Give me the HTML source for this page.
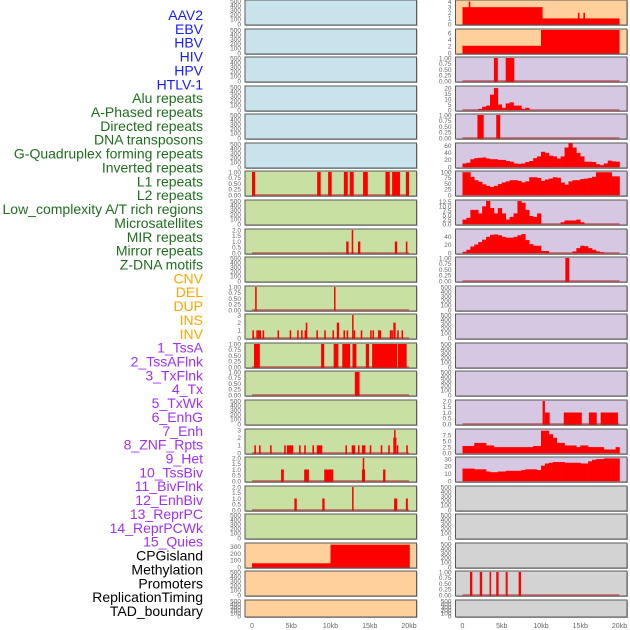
<!DOCTYPE html>
<html><head><meta charset="utf-8">
<style>
html,body{margin:0;padding:0;background:#fff;}
svg{display:block;font-family:"Liberation Sans",sans-serif;}
</style></head>
<body>
<svg id="chart" width="630" height="630" viewBox="0 0 630 630" xmlns="http://www.w3.org/2000/svg"></svg>
<script>
// ---- labels ----
const trackLabels = ["AAV2","EBV","HBV","HIV","HPV","HTLV-1","Alu repeats","A-Phased repeats","Directed repeats","DNA transposons","G-Quadruplex forming repeats","Inverted repeats","L1 repeats","L2 repeats","Low_complexity A/T rich regions","Microsatellites","MIR repeats","Mirror repeats","Z-DNA motifs","CNV","DEL","DUP","INS","INV","1_TssA","2_TssAFlnk","3_TxFlnk","4_Tx","5_TxWk","6_EnhG","7_Enh","8_ZNF_Rpts","9_Het","10_TssBiv","11_BivFlnk","12_EnhBiv","13_ReprPC","14_ReprPCWk","15_Quies","CPGisland","Methylation","Promoters","ReplicationTiming","TAD_boundary"];
const labelGroups = ["virus","virus","virus","virus","virus","virus","rep","rep","rep","rep","rep","rep","rep","rep","rep","rep","rep","rep","rep","sv","sv","sv","sv","sv","hmm","hmm","hmm","hmm","hmm","hmm","hmm","hmm","hmm","hmm","hmm","hmm","hmm","hmm","hmm","oth","oth","oth","oth","oth"];
const xTickValues = [0,5,10,15,20];
const xTickLabels = ["0","5kb","10kb","15kb","20kb"];

// ---- segment data [startKb, endKb, value] ----
const segAlu = [[0,0.4,1],[8.3,8.75,1],[9.7,10.15,1],[11.7,12.2,1],[12.45,12.95,1],[14.15,14.75,1],[17.0,17.55,1],[17.85,18.85,1],[19.6,20.0,1]];
const segDirected = [[12.0,12.3,1],[12.7,12.9,2],[13.5,13.8,1],[18.2,18.5,1],[19.6,19.8,1]];
const segGQuad = [[0.4,0.6,1],[10.45,10.6,1]];
const segInverted = [[0.05,0.25,1],[0.55,0.75,1],[0.75,0.95,1],[0.95,1.15,1],[1.35,1.55,1],[3.25,3.45,1],[4.8,5.0,1],[5.75,5.95,1],[6.25,6.45,1],[6.7,6.85,1],[6.85,7.05,2],[8.2,8.4,1],[9.2,9.4,1],[10.25,10.45,1],[10.8,11.1,2],[11.65,11.85,1],[12.05,12.25,1],[12.75,12.9,3],[12.95,13.15,1],[13.85,14.05,1],[15.05,15.25,1],[15.35,15.55,1],[16.05,16.25,1],[16.25,16.45,1],[17.55,17.75,1],[17.75,17.95,1],[18.0,18.3,2],[18.5,18.7,1],[19.05,19.25,1]];
const segL1 = [[0.25,1.0,1],[8.8,9.2,1],[10.4,11.0,1],[11.5,12.5,1],[12.8,13.3,1],[14.5,14.9,1],[15.3,18.5,1],[18.6,19.7,1]];
const segL2 = [[13.1,13.7,1]];
const segMIR = [[0.3,0.5,1],[0.9,1.1,1],[2.3,2.5,1],[4.1,4.3,1],[4.45,5.25,1],[6.0,6.2,1],[6.65,6.85,1],[7.7,7.9,1],[8.25,8.95,1],[11.9,12.1,1],[12.7,13.15,1],[13.5,13.7,1],[14.0,14.45,1],[15.0,15.2,1],[16.4,16.6,1],[17.35,17.55,1],[18.0,18.4,2],[18.1,18.25,3],[18.45,18.6,1],[19.65,19.85,1]];
const segMirror = [[3.7,4.05,1],[6.65,7.25,1],[9.2,10.35,1],[14.0,14.4,1],[14.1,14.3,2],[16.7,17.0,1]];
const segZDNA = [[5.4,5.7,1],[8.95,9.25,1],[12.75,12.9,2],[18.1,18.5,1],[19.6,19.85,1]];
const segCNV = [[0,10,55],[10,20.1,330]];
const segINS = [[0,10.2,3],[0.8,1.0,4],[10.2,20,1],[14.7,14.9,2],[15.4,15.6,2]];
const segINV = [[0,10,2.2],[10,20,7]];
const segTssA = [[4.0,4.5,1],[5.5,6.6,1]];
const segTxFlnk = [[1.9,2.7,1],[4.3,4.8,1]];
const segZNF = [[13.1,13.6,1]];
const segReprPC = [[10.2,10.5,2],[10.5,11.1,1],[12.9,15.2,1],[16.1,17.1,1],[17.6,19.8,1]];
const segPromoters = [[0.95,1.25,1],[2.2,2.5,1],[3.45,3.65,1],[4.3,4.6,1],[5.5,5.75,1],[7.15,7.45,1]];

// ---- binned data (0.5kb bins, 0-20kb) ----
const binTssAFlnk = [0,0,0,0,1,3,4,14,20,5,2,6,7,4,4,1,2,0,0,0,0,0,0,0,0,0,0,0,0,0,0,0,0,0,0,0,0,0,0,0];
const binTx = [10,12,22,25,26,27,24,22,22,20,20,17,15,10,9,10,14,17,25,30,43,40,32,30,24,30,55,67,55,40,30,15,15,14,8,5,10,18,16,15];
const binTxWk = [100,100,80,65,58,47,40,35,40,48,55,60,65,65,62,55,60,78,78,75,62,68,72,78,76,55,45,60,65,65,70,72,75,80,100,100,100,100,82,82];
const binEnhG = [2.5,3.5,8,8,6,10,13,9,6,9,6,2.5,4,6,13,12,8,4.5,4,6,0,0,0,0,0,1,2,2,2,2.5,1,0,0,0,0,0,0,0,0,0];
const binEnh = [3,8,16,21,27,33,40,45,46,44,40,38,38,40,44,47,32,22,18,18,5,5,0,0,0,0,0,0,4,12,18,17,12,8,4,2,0,0,0,0];
const binReprPCWk = [3,3,3,4.3,4.3,4.3,3.2,3.2,2.5,2.5,2.5,2.5,2.5,2.5,2.5,2.5,2.5,2.5,3,3,9.5,9.5,8,6.5,4.3,4.3,3.2,3.2,3.2,2.5,3.2,3.2,2.5,2.5,2.5,2.5,1.5,1.5,1.5,2.5];
const binQuies = [17,17,17,16,16,16,13,12,12,13,13,14,14,14,14,15,16,16,16,15,21,24,25,26,26,26,25,25,25,25,24,24,27,29,30,30,31,31,31,31];

// ---- axis specs ----
const emptyTicks = [0,100,200,300,400,500];
const fracTicks = [0,0.25,0.5,0.75,1];
const twoTicks = [0,0.5,1,1.5,2];
const threeTicks = [0,1,2,3];

const BG = {blue:"#c8e3eb", green:"#c8e1a3", orange:"#ffd09c", purple:"#d6c7e2", gray:"#d3d3d3"};
const LC = {virus:"#1a1aff", rep:"#1e6e1e", sv:"#ffa500", hmm:"#a030f0", oth:"#000000"};

// panel definitions: [col,row,bg,max,ticks,tickDigits,data,kind]
const panels = [
 [0,0,"blue",500,emptyTicks,0,null,""],
 [0,1,"blue",500,emptyTicks,0,null,""],
 [0,2,"blue",500,emptyTicks,0,null,""],
 [0,3,"blue",500,emptyTicks,0,null,""],
 [0,4,"blue",500,emptyTicks,0,null,""],
 [0,5,"blue",500,emptyTicks,0,null,""],
 [0,6,"green",1,fracTicks,2,segAlu,"seg"],
 [0,7,"green",500,emptyTicks,0,null,""],
 [0,8,"green",2,twoTicks,1,segDirected,"seg"],
 [0,9,"green",500,emptyTicks,0,null,""],
 [0,10,"green",1,fracTicks,2,segGQuad,"seg"],
 [0,11,"green",3,threeTicks,0,segInverted,"seg"],
 [0,12,"green",1,fracTicks,2,segL1,"seg"],
 [0,13,"green",1,fracTicks,2,segL2,"seg"],
 [0,14,"green",500,emptyTicks,0,null,""],
 [0,15,"green",3,threeTicks,0,segMIR,"seg"],
 [0,16,"green",2,twoTicks,1,segMirror,"seg"],
 [0,17,"green",2,twoTicks,1,segZDNA,"seg"],
 [0,18,"green",500,emptyTicks,0,null,""],
 [0,19,"orange",340,[0,100,200,300],0,segCNV,"segnb"],
 [0,20,"orange",500,emptyTicks,0,null,""],
 [0,21,"orange",500,emptyTicks,0,null,""],
 [1,0,"orange",4.1,[0,1,2,3,4],0,segINS,"segnb"],
 [1,1,"orange",7,[0,2,4,6],0,segINV,"segnb"],
 [1,2,"purple",1,fracTicks,2,segTssA,"seg"],
 [1,3,"purple",21,[0,5,10,15,20],0,binTssAFlnk,"bin"],
 [1,4,"purple",1,fracTicks,2,segTxFlnk,"seg"],
 [1,5,"purple",65,[0,20,40,60],0,binTx,"bin"],
 [1,6,"purple",101,[0,25,50,75,100],0,binTxWk,"bin"],
 [1,7,"purple",13,[0,2.5,5,7.5,10,12.5],1,binEnhG,"bin"],
 [1,8,"purple",57,[0,20,40],0,binEnh,"bin"],
 [1,9,"purple",1,fracTicks,2,segZNF,"seg"],
 [1,10,"purple",500,emptyTicks,0,null,""],
 [1,11,"purple",500,emptyTicks,0,null,""],
 [1,12,"purple",500,emptyTicks,0,null,""],
 [1,13,"purple",500,emptyTicks,0,null,""],
 [1,14,"purple",2,twoTicks,1,segReprPC,"seg"],
 [1,15,"purple",9.8,[0,2.5,5,7.5],1,binReprPCWk,"bin"],
 [1,16,"purple",31.5,[0,10,20,30],0,binQuies,"bin"],
 [1,17,"gray",500,emptyTicks,0,null,""],
 [1,18,"gray",500,emptyTicks,0,null,""],
 [1,19,"gray",500,emptyTicks,0,null,""],
 [1,20,"gray",1,fracTicks,2,segPromoters,"seg"],
 [1,21,"gray",500,emptyTicks,0,null,""]
];

const svg = document.getElementById('chart');
const NS = "http://www.w3.org/2000/svg";
function mk(tag, attrs, parent){ const e=document.createElementNS(NS,tag); for(const k in attrs) e.setAttribute(k,attrs[k]); (parent||svg).appendChild(e); return e; }

// labels
trackLabels.forEach((t,i)=>{
  const el = mk('text',{x:203,y:(15+i*13.86+5).toFixed(1),'text-anchor':'end','font-size':14,fill:LC[labelGroups[i]]});
  el.textContent = t;
  
  
});

const colX = [245, 455.5];
const PW = 171.5;
function xScale(col, kb){ return colX[col] + 7 + kb/20*157; }
function panelTop(row){ return Math.round(row*28.57); }
function panelH(row){ return row===21 ? 17 : 25; }

panels.forEach((p,idx)=>{
  const [col,row,bg,max,ticks,dig,data,kind] = p;
  const top = panelTop(row), h = panelH(row), bot = top+h;
  const g = mk('g',{});
  
  
  const y = v => (bot-1) - v/max*(h-2);
  mk('rect',{x:colX[col]+1,y:top+1,width:PW,height:h,fill:"#aaa"},g);
  mk('rect',{x:colX[col],y:top,width:PW,height:h,fill:BG[bg],stroke:"#5a5a5a","stroke-width":1},g);
  // y ticks
  ticks.forEach(t=>{
    const tl = mk('text',{x:colX[col]-4,y:(y(t)+2.3).toFixed(1),'text-anchor':'end','font-size':6.5,fill:"#666"},g);
    tl.textContent = t.toFixed(dig);
    
    
  });
  if(!data) return;
  if(kind!=="segnb"){
    const bl = mk('rect',{x:xScale(col,0),y:y(0)-1,width:xScale(col,20)-xScale(col,0),height:2,fill:"rgba(180,50,50,0.55)"},g);
    
    
  }
  if(kind==="bin"){
    data.forEach((v,i)=>{
      if(v<=0) return;
      const x0 = xScale(col,i*0.5), x1 = xScale(col,(i+1)*0.5);
      const r = mk('rect',{x:x0.toFixed(2),y:y(v).toFixed(2),width:(x1-x0+0.3).toFixed(2),height:(y(0)-y(v)).toFixed(2),fill:"#ff0000"},g);
      
      
    });
  } else {
    data.forEach(s=>{
      const x0 = xScale(col,s[0]), x1 = xScale(col,s[1]);
      const r = mk('rect',{x:x0.toFixed(2),y:y(s[2]).toFixed(2),width:Math.max(1.5,x1-x0).toFixed(2),height:(y(0)-y(s[2])+0.5).toFixed(2),fill:"#ff0000"},g);
      
      
    });
  }
});

// x axis labels
[0,1].forEach(col=>{
  xTickValues.forEach((v,i)=>{
    const t = mk('text',{x:xScale(col,v),y:628,'text-anchor':'middle','font-size':7,fill:"#666"});
    t.textContent = xTickLabels[i];
    
    
  });
});
</script>
</body></html>
